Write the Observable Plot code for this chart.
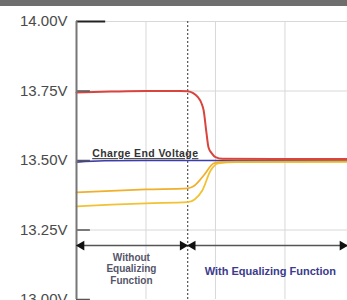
<!DOCTYPE html>
<html>
<head>
<meta charset="utf-8">
<script src="https://cdn.jsdelivr.net/npm/d3@7"></script>
<script src="https://cdn.jsdelivr.net/npm/@observablehq/plot@0.6"></script>
<style>
  body { margin: 0; background: #fff; }
  #wrap { position: relative; width: 347px; height: 300px; overflow: hidden; background: #fff; }
  #bar { position: absolute; left: 0; top: 0; width: 347px; height: 6px; background: #6e6e6e; }
  svg { display: block; }
</style>
</head>
<body>
<div id="wrap"><div id="bar"></div></div>
<script>
// Y-axis ticks (volts)
const yTicks = [13.0, 13.25, 13.5, 13.75, 14.0];
// vertical grid positions (time units)
const xGrid = [1, 2, 3];
// moment the equalizing function switches on
const switchT = [1.6];

// Red cell voltage
const redT = [0, 0.5, 1, 1.5, 1.6, 1.68, 1.74, 1.8, 1.83, 1.87, 1.9, 1.95, 2.0, 2.1, 3.9];
const redV = [13.745, 13.748, 13.75, 13.75, 13.749, 13.742, 13.73, 13.705, 13.68, 13.6, 13.547, 13.525, 13.512, 13.506, 13.505];
// Charge end voltage (blue)
const blueT = [0, 0.4, 1, 3.9];
const blueV = [13.494, 13.499, 13.5, 13.5];
// Upper yellow cell
const yelHiT = [0, 0.5, 1, 1.6, 1.7, 1.83, 1.97, 2.07, 2.3, 3.9];
const yelHiV = [13.385, 13.391, 13.396, 13.4, 13.41, 13.446, 13.489, 13.495, 13.496, 13.497];
// Lower yellow cell
const yelLoT = [0, 0.5, 1, 1.6, 1.7, 1.81, 1.93, 2.04, 2.3, 3.9];
const yelLoV = [13.335, 13.341, 13.346, 13.35, 13.36, 13.392, 13.464, 13.49, 13.494, 13.495];

// annotations
const spanY = 13.194;
const spans = [{x1: 0, x2: 1.6}, {x1: 1.6, x2: 3.9}];
const labels = [
  {x: 0.79, y: 13.111, text: "Without\nEqualizing\nFunction", fill: "#55556a", size: 10},
  {x: 2.79, y: 13.104, text: "With Equalizing Function", fill: "#3b3b8c", size: 11},
  {x: 0.99, y: 13.526, text: "Charge End Voltage", fill: "#333333", size: 10.5}
];

const toRows = (ts, vs) => ts.map((t, i) => ({t, v: vs[i]}));
const red = toRows(redT, redV);
const blue = toRows(blueT, blueV);
const yelHi = toRows(yelHiT, yelHiV);
const yelLo = toRows(yelLoT, yelLoV);

const leftHeads = spans.map(s => ({x: s.x1}));
const rightHeads = spans.map(s => ({x: s.x2}));

const chart = Plot.plot({
  width: 347,
  height: 300,
  marginTop: 21,
  marginBottom: 1,
  marginLeft: 76,
  marginRight: 0,
  style: {background: "transparent", fontFamily: "Liberation Sans, Arial, sans-serif"},
  x: {domain: [0, 3.9], axis: null},
  y: {domain: [13, 14]},
  marks: [
    Plot.ruleY(yTicks.filter(d => d > 13), {stroke: "#d8d8d8", strokeWidth: 1}),
    Plot.ruleX(xGrid, {stroke: "#d8d8d8", strokeWidth: 1}),
    Plot.ruleX(switchT, {stroke: "#555", strokeWidth: 1.2, strokeDasharray: "2,2"}),
    Plot.line(blue, {x: "t", y: "v", stroke: "#3c3caa", strokeWidth: 1.6, curve: "monotone-x"}),
    Plot.line(yelLo, {x: "t", y: "v", stroke: "#f2c233", strokeWidth: 1.8, curve: "monotone-x"}),
    Plot.line(yelHi, {x: "t", y: "v", stroke: "#f0b02c", strokeWidth: 1.8, curve: "monotone-x"}),
    Plot.line(red, {x: "t", y: "v", stroke: "#d9453e", strokeWidth: 2, curve: "monotone-x"}),
    Plot.ruleY(yTicks.filter(d => d < 14), {x1: 0, x2: 0.2, stroke: "#555", strokeWidth: 1.5}),
    Plot.ruleY(yTicks.filter(d => d === 14), {x1: 0, x2: 0.42, stroke: "#222", strokeWidth: 2}),
    Plot.ruleX([0], {stroke: "#777", strokeWidth: 2}),
    Plot.link(spans, {x1: "x1", x2: "x2", y1: spanY, y2: spanY, stroke: "#555", strokeWidth: 1.5}),
    Plot.dot(leftHeads, {x: "x", y: spanY, dx: 5, symbol: "triangle", r: 3.6, fill: "#111", stroke: "none", rotate: -90}),
    Plot.dot(rightHeads, {x: "x", y: spanY, dx: -5, symbol: "triangle", r: 3.6, fill: "#111", stroke: "none", rotate: 90}),
    Plot.text(labels, {x: "x", y: "y", text: "text", fill: "fill", fontSize: "size", fontWeight: "bold", lineHeight: 1.15, lineAnchor: "middle"}),
    Plot.axisY(yTicks, {tickSize: 0, tickPadding: 9, fontSize: 15, fill: "#4a4a4a", tickFormat: d => d.toFixed(2) + "V", letterSpacing: -0.6})
  ]
});

d3.select(chart).selectAll("text").each(function() {
  if (this.textContent === "Charge End Voltage") {
    this.setAttribute("text-decoration", "underline");
    this.setAttribute("letter-spacing", "0.4");
  }
});
document.getElementById("wrap").appendChild(chart);
</script>
</body>
</html>
